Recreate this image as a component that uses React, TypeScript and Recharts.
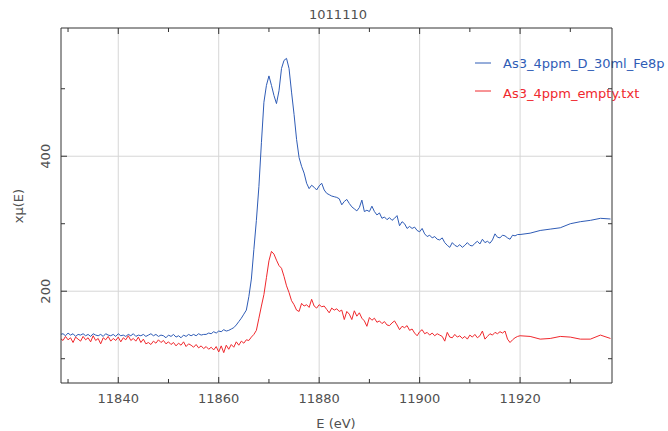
import React from 'react';
import { LineChart, Line, XAxis, YAxis, ReferenceLine } from 'recharts';

const TITLE = '1011110';
const X_LABEL = 'E (eV)';
const Y_LABEL = 'xμ(E)';
const SAMPLE_NAME = 'As3_4ppm_D_30ml_Fe8p';
const EMPTY_NAME = 'As3_4ppm_empty.txt';

const energies = [
  11828.5, 11829, 11829.5, 11830, 11830.5, 11831, 11831.5, 11832, 11832.5, 11833,
  11833.5, 11834, 11834.5, 11835, 11835.5, 11836, 11836.5, 11837, 11837.5, 11838,
  11838.5, 11839, 11839.5, 11840, 11840.5, 11841, 11841.5, 11842, 11842.5, 11843,
  11843.5, 11844, 11844.5, 11845, 11845.5, 11846, 11846.5, 11847, 11847.5, 11848,
  11848.5, 11849, 11849.5, 11850, 11850.5, 11851, 11851.5, 11852, 11852.5, 11853,
  11853.5, 11854, 11854.5, 11855, 11855.5, 11856, 11856.5, 11857, 11857.5, 11858,
  11858.5, 11859, 11859.5, 11860, 11860.5, 11861, 11861.5, 11862, 11862.5, 11863,
  11863.5, 11864, 11864.5, 11865, 11865.5, 11866, 11866.5, 11867, 11867.5, 11868,
  11868.5, 11869, 11869.5, 11870, 11870.5, 11871, 11871.5, 11872, 11872.5, 11873,
  11873.5, 11874, 11874.5, 11875, 11875.5, 11876, 11876.5, 11877, 11877.5, 11878,
  11878.5, 11879, 11879.5, 11880, 11880.5, 11881, 11881.5, 11882, 11882.5, 11883,
  11883.5, 11884, 11884.5, 11885, 11885.5, 11886, 11886.5, 11887, 11887.5, 11888,
  11888.5, 11889, 11889.5, 11890, 11890.5, 11891, 11891.5, 11892, 11892.5, 11893,
  11893.5, 11894, 11894.5, 11895, 11895.5, 11896, 11896.5, 11897, 11897.5, 11898,
  11898.5, 11899, 11899.5, 11900, 11900.5, 11901, 11901.5, 11902, 11902.5, 11903,
  11903.5, 11904, 11904.5, 11905, 11905.5, 11906, 11906.5, 11907, 11907.5, 11908,
  11908.5, 11909, 11909.5, 11910, 11910.5, 11911, 11911.5, 11912, 11912.5, 11913,
  11913.5, 11914, 11914.5, 11915, 11915.5, 11916, 11916.5, 11917, 11917.5, 11918,
  11918.5, 11919, 11919.5, 11920, 11922, 11924, 11926, 11928, 11930, 11932, 11934, 11936, 11938,
];

const sampleValues = [
  136, 137, 134, 138, 135, 137, 133, 136, 135, 137,
  134, 136, 133, 137, 135, 134, 136, 133, 137, 135,
  134, 136, 133, 137, 134, 135, 133, 136, 134, 137,
  133, 135, 134, 136, 133, 135, 137, 134, 136, 133,
  135, 134, 131, 135, 133, 136, 132, 134, 131, 135,
  133, 136, 134, 136, 134, 137, 135, 136, 136, 138,
  137, 140, 138, 141, 140, 143, 141, 142, 144, 146,
  150, 155, 160, 166, 172, 192, 218, 262, 305, 355,
  420, 480, 505, 519, 505, 490, 478, 497, 530, 542,
  545, 530, 495, 462, 425, 398, 385, 375, 360, 352,
  357, 354, 350, 356, 360, 350, 345, 343, 341, 340,
  339, 337, 328, 333, 336, 330, 325, 322, 319, 324,
  335, 318, 320, 318, 326, 318, 313, 316, 308, 310,
  306, 309, 305, 308, 312, 297, 303, 300, 293, 296,
  293, 295, 290, 288, 293, 285, 281, 283, 279, 281,
  277, 276, 279, 272, 268, 265, 272, 268, 266, 269,
  265, 268, 272, 268, 267, 271, 274, 270, 277, 272,
  274, 271, 276, 285, 280, 279, 283, 282, 279, 277,
  283, 282, 284, 284, 286, 290, 292, 294, 300, 303, 305, 308, 307,
];

const emptyValues = [
  130, 127, 133, 128, 131, 124, 132, 129, 126, 133,
  128, 131, 125, 134, 127, 130, 122, 131, 128, 133,
  126, 130, 127, 132, 125, 131, 128, 134, 127, 130,
  126, 132, 124, 129, 122, 124, 121, 126, 123, 128,
  124, 127, 122, 125, 121, 124, 119, 123, 120, 125,
  118, 122, 120, 117, 121, 116, 119, 115, 118, 114,
  117, 113, 118, 110, 119, 109, 120, 114, 121, 117,
  125, 120, 126, 123, 128, 127, 132, 136, 142, 160,
  178, 195, 220, 245, 259, 255, 246, 238, 234, 222,
  208, 198, 186, 180, 172, 170, 182, 178, 180, 176,
  188, 178, 175, 180, 177, 178, 173, 168, 175, 172,
  174, 170, 172, 158, 170, 166, 158, 171, 163, 168,
  160, 156, 148, 161, 157, 160, 154, 156, 152, 155,
  150, 149, 153, 156, 150, 143, 148, 146, 149, 142,
  144, 138, 134, 140, 143, 137, 139, 135, 138, 134,
  137, 135, 133, 126, 139, 132, 131, 136, 132, 134,
  130, 133, 129, 135, 132, 136, 131, 134, 141, 129,
  133, 137, 135, 139, 137, 140, 138, 141, 129, 124,
  128, 131, 133, 134, 133, 129, 130, 133, 132, 129, 129, 135, 130,
];

const xMajorTicks = [11840, 11860, 11880, 11900, 11920];
const xMinorTicks = [11830, 11850, 11870, 11890, 11910, 11930];
const yMajorTicks = [200, 400];
const yMinorTicks = [100, 300, 500];
const xDomain = [11828.6, 11938.3];
const yDomain = [64, 590];

const xTicks = [...xMinorTicks, ...xMajorTicks].sort((a, b) => a - b);
const yTicks = [...yMinorTicks, ...yMajorTicks].sort((a, b) => a - b);

const data = energies.map((e, i) => ({ e, sample: sampleValues[i], empty: emptyValues[i] }));

const FONT = '"DejaVu Sans", sans-serif';
const TEXT = '#505050';
const FRAME = '#333';
const GRID = '#d6d6d6';
const BLUE = '#2f5cb6';
const RED = '#f0282d';

const MAJOR = 6;
const MINOR = 4;

function BottomTick(props: any) {
  const { x, y, payload } = props;
  const major = xMajorTicks.includes(payload.value);
  return (
    <g>
      <line x1={x} x2={x} y1={y} y2={y - (major ? MAJOR : MINOR)} stroke={FRAME} />
      {major && (
        <text x={x} y={y + 15} textAnchor="middle" dominantBaseline="central" fontFamily={FONT} fontSize={13} fill={TEXT}>
          {payload.value}
        </text>
      )}
    </g>
  );
}

function TopTick(props: any) {
  const { x, y, payload } = props;
  const major = xMajorTicks.includes(payload.value);
  return <line x1={x} x2={x} y1={y} y2={y + (major ? MAJOR : MINOR)} stroke={FRAME} />;
}

function LeftTick(props: any) {
  const { x, y, payload } = props;
  const major = yMajorTicks.includes(payload.value);
  return (
    <g>
      <line x1={x} x2={x + (major ? MAJOR : MINOR)} y1={y} y2={y} stroke={FRAME} />
      {major && (
        <text x={x - 15} y={y} transform={`rotate(-90, ${x - 15}, ${y})`} textAnchor="middle" dominantBaseline="central" fontFamily={FONT} fontSize={13} fill={TEXT}>
          {payload.value}
        </text>
      )}
    </g>
  );
}

function RightTick(props: any) {
  const { x, y, payload } = props;
  const major = yMajorTicks.includes(payload.value);
  return <line x1={x} x2={x - (major ? MAJOR : MINOR)} y1={y} y2={y} stroke={FRAME} />;
}

export default function App() {
  return (
    <div style={{ position: 'absolute', left: 0, top: 0, width: 668, height: 431, overflow: 'hidden', background: '#fff' }}>
      <LineChart width={668} height={431} data={data} margin={{ top: 0, right: 0, bottom: 0, left: 0 }}>
        {xMajorTicks.map((t) => (
          <ReferenceLine key={'gx' + t} x={t} stroke={GRID} strokeWidth={1} />
        ))}
        {yMajorTicks.map((t) => (
          <ReferenceLine key={'gy' + t} y={t} stroke={GRID} strokeWidth={1} />
        ))}
        <XAxis
          dataKey="e"
          type="number"
          domain={xDomain}
          allowDataOverflow
          ticks={xTicks}
          interval={0}
          height={48}
          tickSize={0}
          tickMargin={0}
          tickLine={false}
          axisLine={{ stroke: FRAME }}
          tick={<BottomTick />}
        />
        <XAxis
          xAxisId="top"
          orientation="top"
          dataKey="e"
          type="number"
          domain={xDomain}
          allowDataOverflow
          ticks={xTicks}
          interval={0}
          height={28}
          tickSize={0}
          tickMargin={0}
          tickLine={false}
          axisLine={{ stroke: FRAME }}
          tick={<TopTick />}
        />
        <YAxis
          type="number"
          domain={yDomain}
          allowDataOverflow
          ticks={yTicks}
          interval={0}
          width={61}
          tickSize={0}
          tickMargin={0}
          tickLine={false}
          axisLine={{ stroke: FRAME }}
          tick={<LeftTick />}
        />
        <YAxis
          yAxisId="right"
          orientation="right"
          type="number"
          domain={yDomain}
          allowDataOverflow
          ticks={yTicks}
          interval={0}
          width={56}
          tickSize={0}
          tickMargin={0}
          tickLine={false}
          axisLine={{ stroke: FRAME }}
          tick={<RightTick />}
        />
        <Line type="linear" dataKey="sample" name={SAMPLE_NAME} stroke={BLUE} strokeWidth={1} dot={false} activeDot={false} isAnimationActive={false} />
        <Line type="linear" dataKey="empty" name={EMPTY_NAME} stroke={RED} strokeWidth={1} dot={false} activeDot={false} isAnimationActive={false} />
        <text x={338} y={14} textAnchor="middle" dominantBaseline="central" fontFamily={FONT} fontSize={13} fill={TEXT}>
          {TITLE}
        </text>
        <text x={336} y={423} textAnchor="middle" dominantBaseline="central" fontFamily={FONT} fontSize={13} fill={TEXT}>
          {X_LABEL}
        </text>
        <text x={18} y={206} transform="rotate(-90, 18, 206)" textAnchor="middle" dominantBaseline="central" fontFamily={FONT} fontSize={13} fill={TEXT}>
          {Y_LABEL}
        </text>
        <g>
          <line x1={475} x2={491} y1={63} y2={63} stroke={BLUE} strokeWidth={1} />
          <text x={503} y={63} dominantBaseline="central" fontFamily={FONT} fontSize={13} fill={BLUE}>
            {SAMPLE_NAME}
          </text>
          <line x1={475} x2={491} y1={91} y2={91} stroke={RED} strokeWidth={1} />
          <text x={503} y={93} dominantBaseline="central" fontFamily={FONT} fontSize={13} fill={RED}>
            {EMPTY_NAME}
          </text>
        </g>
      </LineChart>
    </div>
  );
}
